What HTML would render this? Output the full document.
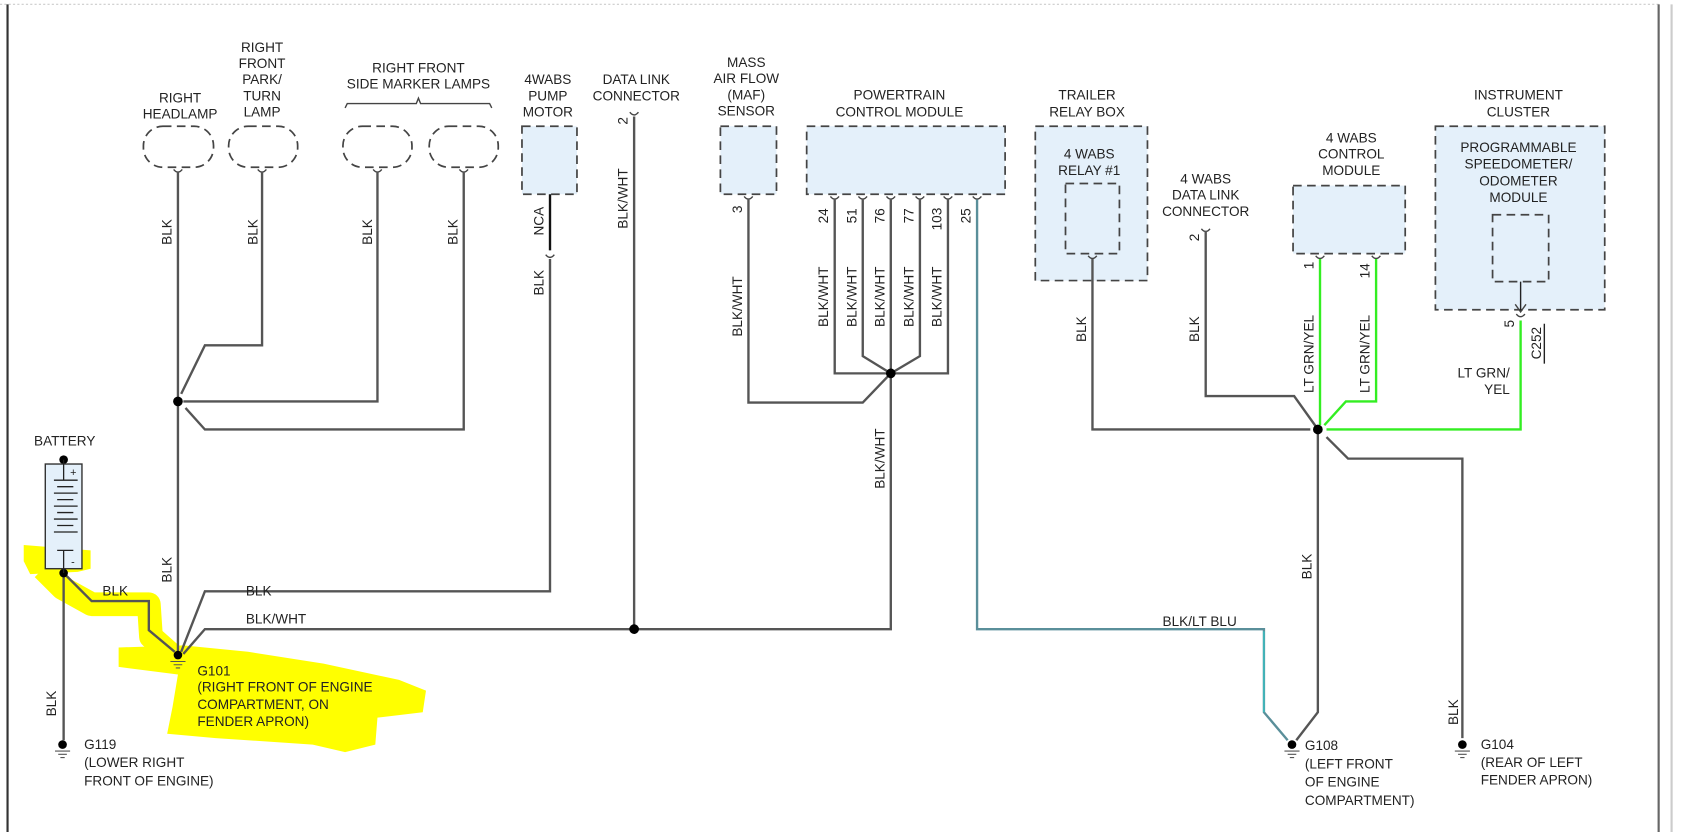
<!DOCTYPE html>
<html><head><meta charset="utf-8"><style>
html,body{margin:0;padding:0;background:#fff;}
svg{display:block;}
text{font-family:"Liberation Sans",sans-serif;font-size:12.6px;fill:#222;}
.w{stroke:#555;stroke-width:2.2;fill:none;}
.g{stroke:#33ee22;stroke-width:2.2;fill:none;}
.c{stroke:#444;stroke-width:1.3;fill:none;}
.box{fill:#e4f0fa;stroke:#444;stroke-width:1.6;stroke-dasharray:8,5;}
.lamp{fill:none;stroke:#444;stroke-width:1.6;stroke-dasharray:8,5;}
</style></head><body>
<svg width="1691" height="832" viewBox="0 0 1568 771" preserveAspectRatio="none" xmlns="http://www.w3.org/2000/svg">
<rect width="1568" height="771" fill="#fff"/>
<line x1="0" y1="4" x2="1540" y2="4" stroke="#ccc" stroke-width="1" stroke-dasharray="2,2"/>
<line x1="7" y1="4" x2="7" y2="771" stroke="#333" stroke-width="2"/>
<line x1="1538" y1="4" x2="1538" y2="771" stroke="#666" stroke-width="2"/>
<line x1="1550" y1="4" x2="1550" y2="771" stroke="#ccc" stroke-width="2"/>

<g fill="#ffff00" stroke="none">
<path d="M22,505 L84,510 L84,527 L72,530 L28,532 L22,520 Z"/>
<path d="M110,600 L170,598 L230,604 L300,615 L370,630 L395,640 L392,660 L350,665 L348,690 L320,697 L290,690 L200,684 L155,680 L160,655 L165,625 L110,618 Z"/>
</g>
<path d="M40,527 L58,545 L85,560 L138,560 L140,590 L165,612" stroke="#ffff00" stroke-width="22" fill="none" stroke-linejoin="round"/>

<g>
<rect class="lamp" x="133" y="117" width="65" height="38" rx="18"/>
<rect class="lamp" x="212" y="117" width="64" height="38" rx="18"/>
<rect class="lamp" x="318" y="117" width="64" height="38" rx="18"/>
<rect class="lamp" x="398" y="117" width="64" height="38" rx="18"/>
</g>
<path d="M320,100 L322,96 L386,96 L388,91 L390,96 L454,96 L456,100" class="c"/>

<rect class="box" x="484" y="117" width="51" height="63"/>
<rect class="box" x="668" y="117" width="52" height="63"/>
<rect class="box" x="748" y="117" width="184" height="63"/>
<rect class="box" x="960" y="117" width="104" height="143"/>
<rect class="box" x="988" y="170" width="50" height="65"/>
<rect class="box" x="1199" y="172" width="104" height="63"/>
<rect class="box" x="1331" y="117" width="157" height="170"/>
<rect class="box" x="1384" y="199" width="52" height="62"/>

<g class="c">
<path d="M161,157 Q165,162 169,157"/><path d="M239,157 Q243,162 247,157"/>
<path d="M346,157 Q350,162 354,157"/><path d="M426,157 Q430,162 434,157"/>
<path d="M506,236 Q510,241 514,236"/><path d="M584,104 Q588,109 592,104"/>
<path d="M690,182 Q694,187 698,182"/>
<path d="M770,182 Q774,187 778,182"/><path d="M796,182 Q800,187 804,182"/>
<path d="M822,182 Q826,187 830,182"/><path d="M849,182 Q853,187 857,182"/>
<path d="M875,182 Q879,187 883,182"/><path d="M902,182 Q906,187 910,182"/>
<path d="M1009,237 Q1013,242 1017,237"/><path d="M1114,212 Q1118,217 1122,212"/>
<path d="M1220,237 Q1224,242 1228,237"/><path d="M1272,237 Q1276,242 1280,237"/>
<path d="M1406,291 Q1410,296 1414,291"/>
</g>
<line x1="1410" y1="261" x2="1410" y2="288" stroke="#222" stroke-width="1.3"/>
<path d="M1405,282 L1410,289 L1415,282" class="c"/>

<g class="w">
<path d="M165,160 L165,605"/>
<path d="M243,160 L243,320 L190,320 L168,365"/>
<path d="M350,160 L350,372 L170,372"/>
<path d="M430,160 L430,398 L190,398 L172,378"/>
<path d="M510,240 L510,548 L190,548 L168,604"/>
<path d="M588,108 L588,583"/>
<path d="M694,185 L694,373 L800,373 L826,346"/>
<path d="M774,185 L774,346 L879,346 L879,185"/>
<path d="M800,185 L800,330 L826,346 L853,330 L853,185"/>
<path d="M826,185 L826,583 L190,583 L170,606"/>
<path d="M1013,240 L1013,398 L1215,398"/>
<path d="M1118,214 L1118,367 L1200,367 L1220,395"/>
<path d="M1222,398 L1222,660 L1202,686"/>
<path d="M1230,405 L1250,425 L1356,425 L1356,684"/>
<path d="M59,531 L59,686"/>
<path d="M59,531 L85,557 L138,557 L138,584 L162,604"/>
</g>
<path d="M510,180 L510,232" stroke="#111" stroke-width="2.2" fill="none"/>
<path d="M906,185 L906,583 L1172,583 L1172,660 L1194,686" stroke="#5a8f9a" stroke-width="2.2" fill="none"/>
<path d="M1172,585 L1172,660" stroke="#30d0d0" stroke-width="1" fill="none"/>
<g class="g">
<path d="M1224,240 L1224,394"/>
<path d="M1276,240 L1276,372 L1248,372 L1228,394"/>
<path d="M1410,297 L1410,398 L1230,398"/>
</g>

<g fill="#000">
<circle cx="165" cy="372" r="4.5"/><circle cx="826" cy="346" r="4.5"/>
<circle cx="588" cy="583" r="4.5"/><circle cx="1222" cy="398" r="4.5"/>
<circle cx="59" cy="426" r="4"/><circle cx="59" cy="531" r="4"/>
</g>

<g>
<circle cx="165" cy="607" r="4"/>
<circle cx="58" cy="690" r="4"/>
<circle cx="1198" cy="690" r="4"/>
<circle cx="1356" cy="690" r="4"/>
<g stroke="#555" stroke-width="1">
<path d="M158,613 h14 M161,616 h8 M163,619 h4"/>
<path d="M51,696 h14 M54,699 h8 M56,702 h4"/>
<path d="M1191,696 h14 M1194,699 h8 M1196,702 h4"/>
<path d="M1349,696 h14 M1352,699 h8 M1354,702 h4"/>
</g>
</g>

<rect x="42" y="430" width="34" height="97" fill="#e4f0fa" stroke="#333" stroke-width="1.3"/>
<g stroke="#222" stroke-width="1.2">
<line x1="59" y1="426" x2="59" y2="445"/>
<line x1="50" y1="445" x2="72" y2="445"/>
<line x1="53" y1="451" x2="68" y2="451"/>
<line x1="50" y1="457" x2="72" y2="457"/>
<line x1="53" y1="463" x2="68" y2="463"/>
<line x1="50" y1="469" x2="72" y2="469"/>
<line x1="53" y1="475" x2="68" y2="475"/>
<line x1="50" y1="481" x2="72" y2="481"/>
<line x1="53" y1="487" x2="68" y2="487"/>
<line x1="50" y1="493" x2="72" y2="493"/>
<line x1="53" y1="510" x2="68" y2="510"/>
<line x1="59" y1="510" x2="59" y2="531"/>
</g>
<text x="65" y="441" style="font-size:10px">+</text>
<text x="66" y="524" style="font-size:10px">-</text>

<g text-anchor="middle">
<text x="167" y="95">RIGHT</text><text x="167" y="110">HEADLAMP</text>
<text x="243" y="48">RIGHT</text><text x="243" y="63">FRONT</text><text x="243" y="78">PARK/</text><text x="243" y="93">TURN</text><text x="243" y="108">LAMP</text>
<text x="388" y="67">RIGHT FRONT</text><text x="388" y="82">SIDE MARKER LAMPS</text>
<text x="508" y="78">4WABS</text><text x="508" y="93">PUMP</text><text x="508" y="108">MOTOR</text>
<text x="590" y="78">DATA LINK</text><text x="590" y="93">CONNECTOR</text>
<text x="692" y="62">MASS</text><text x="692" y="77">AIR FLOW</text><text x="692" y="92">(MAF)</text><text x="692" y="107">SENSOR</text>
<text x="834" y="92">POWERTRAIN</text><text x="834" y="108">CONTROL MODULE</text>
<text x="1008" y="92">TRAILER</text><text x="1008" y="108">RELAY BOX</text>
<text x="1010" y="147">4 WABS</text><text x="1010" y="162">RELAY #1</text>
<text x="1118" y="170">4 WABS</text><text x="1118" y="185">DATA LINK</text><text x="1118" y="200">CONNECTOR</text>
<text x="1253" y="132">4 WABS</text><text x="1253" y="147">CONTROL</text><text x="1253" y="162">MODULE</text>
<text x="1408" y="92">INSTRUMENT</text><text x="1408" y="108">CLUSTER</text>
<text x="1408" y="141">PROGRAMMABLE</text><text x="1408" y="156">SPEEDOMETER/</text><text x="1408" y="172">ODOMETER</text><text x="1408" y="187">MODULE</text>
<text x="60" y="413">BATTERY</text>
</g>
<text x="1400" y="350" text-anchor="end">LT GRN/</text>
<text x="1400" y="365" text-anchor="end">YEL</text>
<text x="95" y="552">BLK</text>
<text x="228" y="552">BLK</text>
<text x="228" y="578">BLK/WHT</text>
<text x="1078" y="580">BLK/LT BLU</text>
<text x="183" y="626">G101</text><text x="183" y="641">(RIGHT FRONT OF ENGINE</text><text x="183" y="657">COMPARTMENT, ON</text><text x="183" y="673">FENDER APRON)</text>
<text x="78" y="694">G119</text><text x="78" y="711">(LOWER RIGHT</text><text x="78" y="728">FRONT OF ENGINE)</text>
<text x="1210" y="695">G108</text><text x="1210" y="712">(LEFT FRONT</text><text x="1210" y="729">OF ENGINE</text><text x="1210" y="746">COMPARTMENT)</text>
<text x="1373" y="694">G104</text><text x="1373" y="711">(REAR OF LEFT</text><text x="1373" y="727">FENDER APRON)</text>

<g text-anchor="middle">
<text transform="translate(159,215) rotate(-90)">BLK</text>
<text transform="translate(239,215) rotate(-90)">BLK</text>
<text transform="translate(345,215) rotate(-90)">BLK</text>
<text transform="translate(424,215) rotate(-90)">BLK</text>
<text transform="translate(504,205) rotate(-90)">NCA</text>
<text transform="translate(504,262) rotate(-90)">BLK</text>
<text transform="translate(582,112) rotate(-90)">2</text>
<text transform="translate(582,184) rotate(-90)">BLK/WHT</text>
<text transform="translate(688,194) rotate(-90)">3</text>
<text transform="translate(688,284) rotate(-90)">BLK/WHT</text>
<text transform="translate(768,200) rotate(-90)">24</text>
<text transform="translate(794,200) rotate(-90)">51</text>
<text transform="translate(820,200) rotate(-90)">76</text>
<text transform="translate(847,200) rotate(-90)">77</text>
<text transform="translate(873,203) rotate(-90)">103</text>
<text transform="translate(900,200) rotate(-90)">25</text>
<text transform="translate(768,275) rotate(-90)">BLK/WHT</text>
<text transform="translate(794,275) rotate(-90)">BLK/WHT</text>
<text transform="translate(820,275) rotate(-90)">BLK/WHT</text>
<text transform="translate(847,275) rotate(-90)">BLK/WHT</text>
<text transform="translate(873,275) rotate(-90)">BLK/WHT</text>
<text transform="translate(820,425) rotate(-90)">BLK/WHT</text>
<text transform="translate(159,528) rotate(-90)">BLK</text>
<text transform="translate(52,652) rotate(-90)">BLK</text>
<text transform="translate(1007,305) rotate(-90)">BLK</text>
<text transform="translate(1112,220) rotate(-90)">2</text>
<text transform="translate(1112,305) rotate(-90)">BLK</text>
<text transform="translate(1218,246) rotate(-90)">1</text>
<text transform="translate(1270,251) rotate(-90)">14</text>
<text transform="translate(1218,328) rotate(-90)">LT GRN/YEL</text>
<text transform="translate(1270,328) rotate(-90)">LT GRN/YEL</text>
<text transform="translate(1404,300) rotate(-90)">5</text>
<text transform="translate(1429,318) rotate(-90)">C252</text>
<text transform="translate(1216,525) rotate(-90)">BLK</text>
<text transform="translate(1352,660) rotate(-90)">BLK</text>
</g>
<line x1="1432" y1="300" x2="1432" y2="337" stroke="#222" stroke-width="1.3"/>
</svg>
</body></html>
